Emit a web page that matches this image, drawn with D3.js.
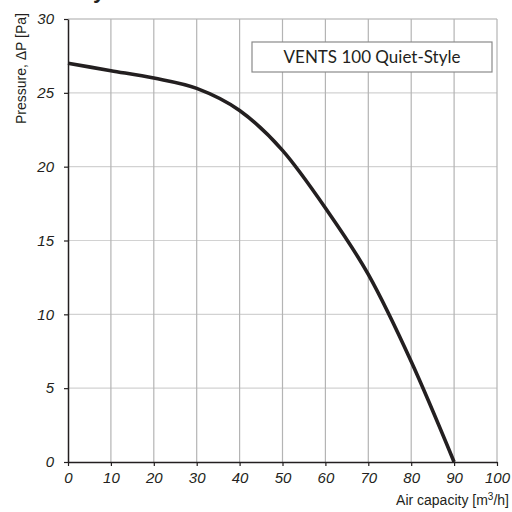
<!DOCTYPE html>
<html>
<head>
<meta charset="utf-8">
<script src="https://cdn.jsdelivr.net/npm/d3@7"></script>
<style>
  body { margin: 0; background: #fff; }
</style>
</head>
<body>
<svg id="chart" width="512" height="512"></svg>
<script>
// air capacity (m3/h) vs pressure (Pa)
var capacity = [0, 10, 20, 30, 40, 50, 60, 70, 80, 90];
var pressure = [27, 26.5, 26, 25.3, 23.8, 21.1, 17.2, 12.7, 6.8, 0];
var xTicks = [0, 10, 20, 30, 40, 50, 60, 70, 80, 90, 100];
var yTicks = [0, 5, 10, 15, 20, 25, 30];
var legendLabel = 'VENTS 100 Quiet-Style';

// plot edges (note: "top" is reserved on window, so prefix them)
var plotLeft = 68, plotRight = 497, plotTop = 19, plotBottom = 462;
var sansFont = '"Liberation Sans", Arial, sans-serif';

var svg = d3.select('#chart');

var x = d3.scaleLinear().domain([0, 100]).range([plotLeft, plotRight]);
var y = d3.scaleLinear().domain([0, 30]).range([plotBottom, plotTop]);

// cut-off title at the top edge
svg.append('text')
    .attr('x', 93)
    .attr('y', -2)
    .style('font-family', sansFont)
    .style('font-weight', 'bold')
    .style('font-size', '22px')
    .attr('fill', '#231f20')
    .text('y');

// grid
svg.append('g').selectAll('line')
    .data(yTicks.filter(d => d > 0))
    .enter().append('line')
    .attr('x1', plotLeft).attr('x2', plotRight)
    .attr('y1', d => y(d)).attr('y2', d => y(d))
    .attr('stroke', d => d == 30 ? '#a8a8a8' : '#d2d2d2')
    .attr('stroke-width', 1.2);

svg.append('g').selectAll('line')
    .data(xTicks.filter(d => d > 0))
    .enter().append('line')
    .attr('x1', d => x(d)).attr('x2', d => x(d))
    .attr('y1', plotTop).attr('y2', plotBottom)
    .attr('stroke', '#b4b4b4')
    .attr('stroke-width', 1.2);

// axes
var styleTicks = sel => sel
    .style('font-family', sansFont)
    .style('font-style', 'italic')
    .style('font-size', '15px')
    .style('fill', '#231f20');

var xAxis = svg.append('g')
    .attr('transform', `translate(0,${plotBottom})`)
    .call(d3.axisBottom(x).tickValues(xTicks).tickSize(4).tickSizeOuter(0));
xAxis.select('.domain').attr('stroke', '#231f20').attr('stroke-width', 1.5);
xAxis.selectAll('.tick line').attr('stroke', '#231f20').attr('stroke-width', 1.2);
xAxis.selectAll('.tick text').call(styleTicks).attr('y', 10);

var yAxis = svg.append('g')
    .attr('transform', `translate(${plotLeft},0)`)
    .call(d3.axisLeft(y).tickValues(yTicks).tickSize(4).tickSizeOuter(0));
yAxis.select('.domain').attr('stroke', '#231f20').attr('stroke-width', 1.5);
yAxis.selectAll('.tick line').attr('stroke', '#231f20').attr('stroke-width', 1.2);
yAxis.selectAll('.tick text').call(styleTicks).attr('x', -14);

// curve
var line = d3.line()
    .x((d, i) => x(capacity[i]))
    .y(d => y(d))
    .curve(d3.curveMonotoneX);

svg.append('path')
    .attr('d', line(pressure))
    .attr('fill', 'none')
    .attr('stroke', '#231f20')
    .attr('stroke-width', 3.6);

// legend box
svg.append('rect')
    .attr('x', 252).attr('y', 42)
    .attr('width', 240).attr('height', 30)
    .attr('fill', '#fff')
    .attr('stroke', '#8a8a8a')
    .attr('stroke-width', 1.2);

svg.append('text')
    .attr('x', 372).attr('y', 63)
    .attr('text-anchor', 'middle')
    .style('font-family', 'Lato, sans-serif')
    .style('font-size', '17px')
    .attr('fill', '#231f20')
    .text(legendLabel);

// axis titles
var xTitle = svg.append('text')
    .attr('x', 509).attr('y', 505)
    .attr('text-anchor', 'end')
    .style('font-family', sansFont)
    .style('font-size', '14px')
    .attr('fill', '#231f20');
xTitle.append('tspan').text('Air capacity [m');
xTitle.append('tspan').attr('dy', -5).style('font-size', '10px').text('3');
xTitle.append('tspan').attr('dy', 5).text('/h]');

svg.append('text')
    .attr('transform', 'translate(26,13) rotate(-90)')
    .attr('text-anchor', 'end')
    .style('font-family', sansFont)
    .style('font-size', '14px')
    .attr('fill', '#231f20')
    .text('Pressure, ΔP [Pa]');
</script>
</body>
</html>
